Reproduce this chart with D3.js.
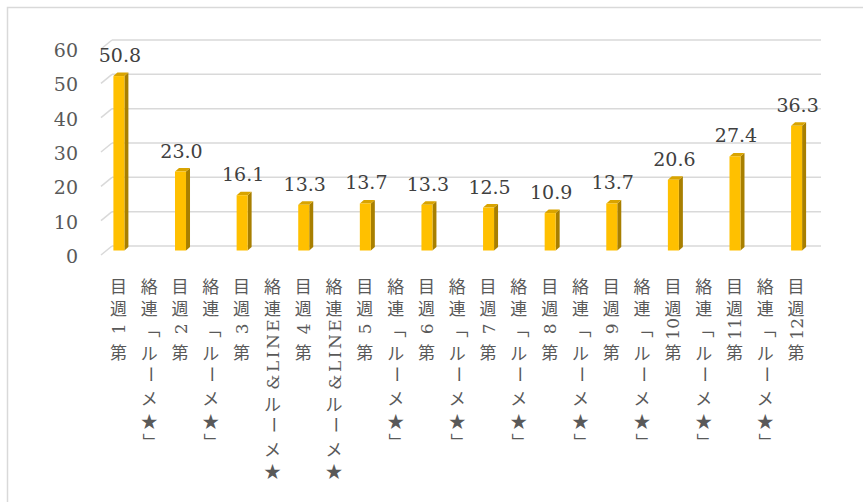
<!DOCTYPE html>
<html lang="ja">
<head>
<meta charset="utf-8">
<script src="https://cdn.jsdelivr.net/npm/d3@7"></script>
<style>
  html, body { margin: 0; padding: 0; background: #ffffff; }
  svg { display: block; }
</style>
</head>
<body>
<svg id="chart" width="863" height="502"></svg>
<script>
// Categories along the floor: weekly results alternating with the contact that followed
const categories = [
  "第 1 週目", "「★メール」連絡", "第 2 週目", "「★メール」連絡", "第 3 週目",
  "★メール&LINE連絡", "第 4 週目", "★メール&LINE連絡", "第 5 週目", "「★メール」連絡",
  "第 6 週目", "「★メール」連絡", "第 7 週目", "「★メール」連絡", "第 8 週目",
  "「★メール」連絡", "第 9 週目", "「★メール」連絡", "第10週目", "「★メール」連絡",
  "第11週目", "「★メール」連絡", "第12週目"
];
// Value per category (contact slots carry no bar)
const values = [
  50.8, null, 23.0, null, 16.1,
  null, 13.3, null, 13.7, null,
  13.3, null, 12.5, null, 10.9,
  null, 13.7, null, 20.6, null,
  27.4, null, 36.3
];
const yTicks = [0, 10, 20, 30, 40, 50, 60];

const svg = d3.select("#chart");
const serif = "'DejaVu Serif', 'Liberation Serif', serif";
const cjk = "'Noto Sans CJK JP', sans-serif";

// outer chart frame
svg.append("rect")
  .attr("x", 7.5).attr("y", 7.5)
  .attr("width", 1000).attr("height", 1000)
  .attr("fill", "none").attr("stroke", "#d9d9d9").attr("stroke-width", 1.5);

// back-wall value scale and the depth offsets of the 3D floor
const y = d3.scaleLinear().domain([0, 60]).range([246, 40]);
const depth = { dx: -11, dy: 9 };          // back wall -> front edge
const mid = { dx: depth.dx / 2, dy: depth.dy / 2 };
const wallLeft = 112, wallRight = 821;

// band per category slot (labels repeat, so the slots are keyed by index)
const x = d3.scaleBand().domain(d3.range(categories.length)).range([103.5, 812]).paddingInner(0);
const bw = x.bandwidth();

// gridlines on the back wall plus the short diagonals on the side wall
const grid = svg.append("g");
yTicks.forEach(t => {
  grid.append("line")
    .attr("x1", wallLeft).attr("x2", wallRight)
    .attr("y1", y(t)).attr("y2", y(t))
    .attr("stroke", "#d9d9d9").attr("stroke-width", 1.5);
  grid.append("line")
    .attr("x1", wallLeft + depth.dx).attr("y1", y(t) + depth.dy)
    .attr("x2", wallLeft).attr("y2", y(t))
    .attr("stroke", "#d9d9d9").attr("stroke-width", 1.5);
});

// value axis labels
svg.append("g").selectAll("text")
  .data(yTicks).join("text")
  .attr("x", 78)
  .attr("y", d => y(d) + depth.dy + 1)
  .attr("text-anchor", "end")
  .attr("dominant-baseline", "central")
  .attr("font-family", serif)
  .attr("font-size", 19)
  .attr("fill", "#595959")
  .text(d => d);

// 3D columns
const data = categories.map((c, i) => ({ i, c, v: values[i] })).filter(d => d.v != null);
const faceW = 11, sideW = 4, sideH = 3.5;
const bars = svg.append("g").selectAll("g")
  .data(data).join("g");

bars.each(function (d) {
  const g = d3.select(this);
  const cx = x(d.i) + bw / 2;
  const x0 = cx - faceW / 2, x1 = cx + faceW / 2;
  const yb = y(0) + mid.dy, yt = y(d.v) + mid.dy;
  // right side face
  g.append("path")
    .attr("d", `M${x1},${yt} L${x1 + sideW},${yt - sideH} L${x1 + sideW},${yb - sideH} L${x1},${yb} Z`)
    .attr("fill", "#a87f00");
  // top face
  g.append("path")
    .attr("d", `M${x0},${yt} L${x0 + sideW},${yt - sideH} L${x1 + sideW},${yt - sideH} L${x1},${yt} Z`)
    .attr("fill", "#d9a400");
  // front face
  g.append("rect")
    .attr("x", x0).attr("y", yt)
    .attr("width", faceW).attr("height", yb - yt)
    .attr("fill", "#ffc000");
  // value label
  g.append("text")
    .attr("x", cx + 1)
    .attr("y", yt - 14)
    .attr("text-anchor", "middle")
    .attr("font-family", serif)
    .attr("font-size", 19)
    .attr("fill", "#404040")
    .text(d3.format(".1f")(d.v));
});

// Category labels run bottom-to-top and hang from the floor edge.
// Each label is one <text> turned by -90deg; kanji, kana and ★ are
// turned back upright glyph by glyph (the glyph pivots on its
// alphabetic origin, which sits `pivot` px below the central line),
// while digits, Latin letters, brackets and the long-vowel bar
// travel with the line.
const labelTop = 273, em = 17, gap = 5.5, pivot = 8;
const narrowSize = 17, letterGap = 2.5;
const isUpright = ch => /[\u3040-\u30fb\u4e00-\u9fff\u2605]/.test(ch);
const isWide = ch => /[「」ー]/.test(ch);

// width of a narrow glyph in the serif face
const probe = svg.append("text").attr("font-family", serif).attr("font-size", narrowSize)
  .attr("visibility", "hidden").style("white-space", "pre");
const narrowWidth = ch => { probe.text(ch); return probe.node().getComputedTextLength(); };

const labelLayer = svg.append("g");
categories.forEach((label, i) => {
  const cx = x(i) + bw / 2;
  const chars = [...label];
  let total = 0, pdx = 0, pdy = 0;
  const glyphs = chars.map(ch => {
    let g;
    if (isUpright(ch)) {
      g = { ch, font: cjk, size: em, rot: 90, dx: pdx + gap / 2 + em / 2 - pivot, dy: pdy - em / 2 - pivot };
      pdx = gap / 2 - em / 2 + pivot; pdy = em / 2 + pivot;
      total += em + gap;
    } else if (isWide(ch)) {
      g = { ch, font: cjk, size: em, rot: 0, dx: pdx + gap / 2, dy: pdy };
      pdx = gap / 2; pdy = 0;
      total += em + gap;
    } else {
      // letters get a little air; digits and spaces stay tight
      const extra = /[A-Za-z&]/.test(ch) ? letterGap : 0;
      g = { ch, font: serif, size: narrowSize, rot: 0, dx: pdx + extra / 2, dy: pdy };
      pdx = extra / 2; pdy = 0;
      total += narrowWidth(ch) + extra;
    }
    return g;
  });
  const text = labelLayer.append("text")
    .attr("transform", `translate(${cx},${labelTop + total}) rotate(-90)`)
    .attr("text-anchor", "start")
    .attr("dominant-baseline", "central")
    .attr("font-size", em)
    .attr("fill", "#595959")
    .style("white-space", "pre");
  text.selectAll("tspan").data(glyphs).join("tspan")
    .attr("font-family", g => g.font)
    .attr("font-size", g => g.size)
    .attr("dx", g => g.dx)
    .attr("dy", g => g.dy)
    .attr("rotate", g => g.rot)
    .text(g => g.ch);
});
probe.remove();
</script>
</body>
</html>
